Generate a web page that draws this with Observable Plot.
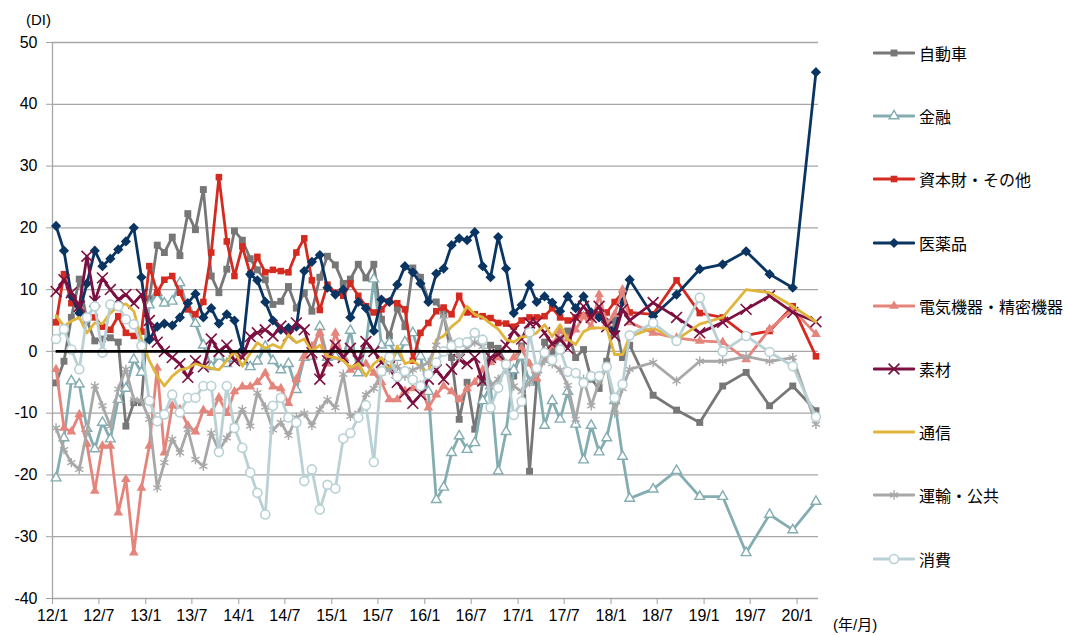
<!DOCTYPE html>
<html><head><meta charset="utf-8">
<script src="https://cdn.jsdelivr.net/npm/d3@7"></script>
<script src="https://cdn.jsdelivr.net/npm/@observablehq/plot@0.6"></script>
<style>
body{margin:0;background:#fff;}
#wrap{position:relative;width:1065px;height:635px;overflow:hidden;}
#chart svg{display:block;}
g[aria-label="y-axis tick"], g[aria-label="x-axis tick"]{stroke:#a0a0a0;}
.unit{position:absolute;font-family:"Liberation Sans","Noto Sans CJK JP",sans-serif;font-size:15px;color:#000;white-space:nowrap;}
.item{position:absolute;left:873px;height:20px;display:flex;align-items:center;white-space:nowrap;font-family:"Noto Sans CJK JP",sans-serif;font-size:16px;color:#000;}
.item svg{margin-right:4px;}
</style></head>
<body><div id="wrap"><div id="chart"></div></div>
<script>
// ---- data ----
const periods = [
"2012-01","2012-02","2012-03","2012-04","2012-05","2012-06","2012-07","2012-08","2012-09","2012-10","2012-11","2012-12",
"2013-01","2013-02","2013-03","2013-04","2013-05","2013-06","2013-07","2013-08","2013-09","2013-10","2013-11","2013-12",
"2014-01","2014-02","2014-03","2014-04","2014-05","2014-06","2014-07","2014-08","2014-09","2014-10","2014-11","2014-12",
"2015-01","2015-02","2015-03","2015-04","2015-05","2015-06","2015-07","2015-08","2015-09","2015-10","2015-11","2015-12",
"2016-01","2016-02","2016-03","2016-04","2016-05","2016-06","2016-07","2016-08","2016-09","2016-10","2016-11","2016-12",
"2017-01","2017-02","2017-03","2017-04","2017-05","2017-06","2017-07","2017-08","2017-09","2017-10","2017-11","2017-12",
"2018-01","2018-02","2018-03",
"2018-06","2018-09","2018-12","2019-03","2019-06","2019-09","2019-12","2020-03"];
const xTickLabels = ["12/1","12/7","13/1","13/7","14/1","14/7","15/1","15/7","16/1","16/7","17/1","17/7","18/1","18/7","19/1","19/7","20/1"];
const yTicks = [-40,-30,-20,-10,0,10,20,30,40,50];
const seriesNames = ["自動車","金融","資本財・その他","医薬品","電気機器・精密機器","素材","通信","運輸・公共","消費"];
const zeroLineSpan = ["2012-01","2017-01"];

const auto = [
-5.1,-1.6,5.5,11.7,5.0,1.7,2.0,2.2,1.5,-12.1,-8.3,-8.3,
8.5,17.2,16.0,18.5,15.5,22.3,19.7,26.2,12.2,9.5,13.3,19.5,
18.0,15.0,13.2,11.6,7.6,8.1,10.5,7.0,9.5,6.5,12.0,15.4,
14.0,11.0,11.7,14.1,11.9,14.1,5.2,2.5,7.0,4.0,13.5,12.0,
8.4,8.0,6.0,-1.0,-11.0,-5.0,-12.6,-5.0,1.0,0.5,-2.0,-4.0,
0.9,-19.4,-5.0,1.5,0.0,2.0,3.3,-1.0,0.3,-4.5,-6.0,-1.6,5.0,-1.0,1.0,
-7.1,-9.5,-11.5,-5.6,-3.4,-8.8,-5.6,-9.6];
const finance = [
-20.5,-14.0,-4.8,-5.3,-12.5,-15.8,-11.5,-14.2,-7.8,-6.0,-1.3,-3.4,
7.5,9.5,7.8,8.1,11.1,7.0,4.5,1.0,-2.5,-0.8,-2.0,-1.1,
-1.5,-2.5,-1.6,0.8,-1.5,-3.0,-2.0,-6.2,-1.0,-0.8,4.0,-1.0,
-0.8,-1.0,3.4,-3.5,1.0,11.7,1.0,1.4,-1.0,1.5,3.0,-0.8,
-6.5,-24.0,-22.0,-16.4,-13.7,-15.9,-14.8,-8.0,-5.6,-19.4,-13.0,-3.0,
-0.8,-5.0,-3.0,-12.0,-8.0,-11.0,-6.5,-11.8,-17.6,-12.0,-16.3,-14.0,-8.0,-17.0,-23.8,
-22.3,-19.3,-23.5,-23.5,-32.6,-26.4,-28.9,-24.3];
const capital = [
4.7,12.5,7.8,7.0,5.5,5.5,4.0,3.5,5.7,3.0,2.5,3.2,
13.8,9.5,11.6,12.2,9.5,6.8,6.0,8.0,16.0,28.2,17.8,12.2,
17.0,12.5,15.3,12.8,13.2,13.0,12.8,16.0,18.3,11.5,6.7,10.8,
9.5,9.0,11.0,9.0,7.3,6.3,6.8,8.1,7.8,6.8,-1.5,3.0,
4.6,6.5,7.1,6.0,9.0,6.3,6.0,5.7,5.4,4.6,4.5,4.0,
5.0,5.5,5.5,5.7,7.0,5.5,5.0,5.5,5.8,5.5,6.0,6.3,8.0,9.5,6.3,
6.0,11.5,6.2,5.5,2.6,3.3,7.3,-0.8];
const pharma = [
20.3,16.3,9.0,6.2,11.0,16.3,13.8,15.0,16.5,17.8,20.0,12.0,
1.9,4.0,4.5,4.2,5.5,7.8,9.3,5.5,7.0,4.5,6.0,5.0,
0.2,12.5,11.5,8.0,5.0,3.5,3.8,4.0,13.0,14.5,15.6,10.3,
9.2,10.0,5.5,8.0,7.0,3.3,8.4,8.0,10.8,13.8,12.8,11.0,
8.0,12.6,13.4,17.2,18.3,18.0,19.3,13.8,12.0,18.5,13.4,6.2,
7.5,10.8,8.0,8.9,7.9,6.5,8.9,7.0,8.9,6.3,5.5,4.7,3.2,8.0,11.6,
5.7,9.2,13.3,14.1,16.2,12.5,10.3,45.2];
const electric = [
-2.9,-12.4,-13.0,-10.2,-15.0,-22.6,-15.3,-15.3,-26.1,-20.7,-32.6,-22.1,
-15.3,-2.7,-16.4,-8.8,-9.4,-12.0,-13.0,-9.5,-10.0,-7.5,-10.0,-6.5,
-5.7,-5.7,-5.0,-3.5,-5.7,-6.0,-8.4,-4.5,-0.8,0.8,3.0,-2.0,
3.0,-1.0,-3.0,-2.5,-2.0,-3.5,-5.0,-7.8,-7.8,-6.4,-6.0,-5.5,
-9.1,-7.0,-5.6,-6.5,-7.8,-6.0,-5.0,-3.0,-1.8,-1.0,-2.0,-1.0,
0.5,-2.0,-4.4,-1.0,1.0,3.3,2.0,3.5,5.7,4.0,9.2,4.5,6.0,10.0,4.7,
3.0,2.2,1.7,1.5,-1.3,3.6,6.8,2.8];
const materials = [
9.7,11.6,9.5,7.3,15.4,8.1,11.9,10.0,8.4,9.2,7.8,9.2,
5.0,1.5,0.0,-1.0,-2.0,-4.2,-1.5,-2.5,2.0,0.0,1.0,-1.5,
-1.0,2.4,3.0,3.5,2.5,4.1,2.5,4.6,3.5,-0.2,-4.5,-1.5,
1.0,-1.0,0.5,-1.5,1.6,0.0,-1.8,-2.5,-5.0,-6.7,-8.4,-7.0,
-4.5,-3.0,-4.5,-2.9,-1.3,-2.0,-1.0,-4.8,-1.0,-0.5,1.0,3.4,
2.0,4.6,4.6,3.0,1.2,2.0,0.5,5.5,7.3,5.5,7.3,4.0,2.5,6.8,5.0,
7.9,5.5,3.0,4.7,6.8,9.0,6.3,4.8];
const telecom = [
5.8,4.1,4.9,5.5,3.0,4.6,4.5,6.2,7.3,7.7,6.5,2.0,
-1.5,-4.0,-5.6,-4.0,-3.0,-2.7,-2.0,-2.4,-2.7,-3.0,-1.5,0.0,
-2.4,-0.3,1.4,0.5,1.1,0.5,2.7,1.4,2.0,0.0,1.0,-0.8,
-1.0,-1.5,-2.6,-2.0,-4.0,-2.0,-1.0,-3.0,0.9,-2.0,-1.5,-2.5,
-3.5,1.9,2.5,4.0,5.0,7.3,6.0,5.5,4.5,3.6,1.9,1.5,
2.4,2.4,3.0,4.3,2.4,4.3,2.0,1.1,3.2,3.8,3.8,3.7,-0.5,-0.5,2.4,
3.8,1.9,4.4,5.5,10.0,9.5,7.3,4.8];
const transport = [
-12.4,-15.9,-18.0,-19.1,-13.0,-5.6,-8.8,-12.1,-6.1,-2.9,-7.8,-8.0,
-11.0,-22.1,-18.0,-14.2,-16.4,-12.6,-17.5,-18.6,-13.2,-16.1,-14.0,-12.1,
-9.4,-12.1,-6.7,-9.0,-12.7,-11.5,-13.6,-10.7,-10.0,-12.0,-9.4,-7.8,
-9.1,-3.7,-10.5,-10.0,-7.0,-6.0,-3.5,-3.0,-2.4,-4.0,-3.0,-2.5,
-1.8,1.0,5.7,1.5,-1.0,0.5,1.5,0.8,-5.6,-4.5,-3.0,-5.6,
-6.5,-5.0,-3.5,-1.5,-2.0,-3.0,-5.5,-11.0,-4.5,-8.8,-5.0,-2.5,-10.0,-6.0,-2.9,
-1.8,-4.8,-1.6,-1.6,-0.8,-1.6,-1.0,-11.8];
const consumer = [
2.0,3.6,0.3,-2.9,5.5,7.3,-0.2,7.6,7.3,5.2,4.4,0.9,
-8.0,-11.3,-10.2,-7.0,-9.9,-7.5,-7.5,-5.6,-5.6,-16.3,-5.6,-12.4,
-15.6,-19.6,-22.9,-26.4,-8.8,-7.5,-10.7,-11.5,-21.0,-19.1,-25.6,-21.6,
-22.2,-14.1,-13.2,-10.7,-8.7,-17.9,-3.2,-0.9,-4.1,-3.2,-4.6,-5.6,
-3.7,-1.8,0.0,0.9,1.4,1.5,3.0,1.9,-9.1,-5.9,-2.1,-10.3,
-8.1,3.1,-2.7,-0.2,-1.4,0.3,-3.3,-3.5,-5.1,-4.0,-4.0,-2.5,-7.5,-5.3,2.6,
4.6,1.7,8.7,0.0,2.5,-0.1,-2.4,-10.6];

// ---- styling (not data) ----
const seriesValues = [auto, finance, capital, pharma, electric, materials, telecom, transport, consumer];
const styles = [
  {color:"#777777", symbol:"square",   fill:"#777777", r:3.9},
  {color:"#84adb1", symbol:"triangle", fill:"#ffffff", r:3.6, sw:1.4},
  {color:"#d42a20", symbol:"square",   fill:"#d42a20", r:3.7},
  {color:"#0a3562", symbol:"diamond2", fill:"#0a3562", r:4.6},
  {color:"#e5847b", symbol:"triangle", fill:"#e5847b", r:3.6},
  {color:"#7c1040", symbol:"times",    fill:"none",    r:5.0, sw:1.6},
  {color:"#dfb53c", symbol:null},
  {color:"#a8a8a8", symbol:"asterisk", fill:"none",    r:4.4, sw:1.4},
  {color:"#b9d1d5", symbol:"circle",   fill:"#ffffff", r:4.5, sw:1.6}
];

const parsePeriod = s => new Date(Date.UTC(+s.slice(0,4), +s.slice(5,7) - 1, 15));
const parseTick = s => { const [yy, mm] = s.split("/"); return new Date(Date.UTC(2000 + +yy, +mm - 1, 1)); };
const tickDates = xTickLabels.map(parseTick);
const tickLabelMap = new Map(tickDates.map((d, i) => [+d, xTickLabels[i]]));

seriesValues.forEach((arr, i) => { if (arr.length !== periods.length) console.error(seriesNames[i], arr.length); });

const table = periods.map((p, i) => {
  const row = {date: parsePeriod(p)};
  seriesValues.forEach((arr, k) => row["s" + k] = arr[i]);
  return row;
});

const marks = [
  Plot.ruleY(yTicks, {stroke:"#a6a6a6", strokeWidth:1.3}),
  Plot.ruleX([new Date(Date.UTC(2012,0,1))], {stroke:"#a6a6a6", strokeWidth:1.3}),
  Plot.axisY(yTicks, {tickSize:6, tickPadding:9, fontSize:16, tickFormat: d => String(d)}),
  Plot.axisX(tickDates, {tickSize:6, tickPadding:5, fontSize:16, tickFormat: d => tickLabelMap.get(+d)})
];
styles.forEach((st, k) => {
  const key = "s" + k;
  marks.push(Plot.line(table, {x:"date", y:key, stroke:st.color, strokeWidth:2.8, strokeLinejoin:"round", strokeLinecap:"round"}));
  if (st.symbol) {
    const stroked = st.fill === "none" || st.fill === "#ffffff";
    marks.push(Plot.dot(table, {
      x:"date", y:key, symbol: () => st.symbol, r: st.r,
      fill: st.fill === "none" ? "none" : st.fill,
      stroke: stroked ? st.color : "none",
      strokeWidth: st.sw || 1
    }));
  }
});
marks.push(Plot.ruleY([{y:0, a:parsePeriod(zeroLineSpan[0]), b:parsePeriod(zeroLineSpan[1])}], {y:"y", x1:"a", x2:"b", stroke:"#000", strokeWidth:2.6}));

const chart = Plot.plot({
  width: 1065, height: 635,
  marginLeft: 52, marginRight: 247, marginTop: 42, marginBottom: 37,
  x: {type:"utc", domain:[new Date(Date.UTC(2012,0,1)), new Date(Date.UTC(2020,2,25))]},
  y: {domain:[-40, 50]},
  symbol: {type:"identity"},
  style: {fontFamily:"'Liberation Sans', Arial, sans-serif", color:"#000", background:"#fff"},
  marks
});
document.getElementById("chart").appendChild(chart);

// axis unit labels
const wrap = document.getElementById("wrap");
function addText(txt, left, top){ const d = document.createElement("div"); d.className = "unit"; d.textContent = txt; d.style.left = left + "px"; d.style.top = top + "px"; wrap.appendChild(d); }
addText("(DI)", 26, 11);
addText("(年/月)", 833, 613);

// legend
const symbolTypes = {square:d3.symbolSquare, triangle:d3.symbolTriangle, diamond2:d3.symbolDiamond2, times:d3.symbolTimes, asterisk:d3.symbolAsterisk, circle:d3.symbolCircle};
seriesNames.forEach((name, k) => {
  const st = styles[k];
  const row = document.createElement("div");
  row.className = "item";
  row.style.top = (43 + k * 63.2) + "px";
  const ns = "http://www.w3.org/2000/svg";
  const svg = document.createElementNS(ns, "svg");
  svg.setAttribute("width", 42); svg.setAttribute("height", 14);
  const ln = document.createElementNS(ns, "line");
  ln.setAttribute("x1", 1); ln.setAttribute("x2", 41); ln.setAttribute("y1", 7); ln.setAttribute("y2", 7);
  ln.setAttribute("stroke", st.color); ln.setAttribute("stroke-width", 2.8); ln.setAttribute("stroke-linecap", "round");
  svg.appendChild(ln);
  if (st.symbol) {
    const p = document.createElementNS(ns, "path");
    p.setAttribute("d", d3.symbol(symbolTypes[st.symbol], Math.PI * st.r * st.r)());
    p.setAttribute("transform", "translate(21,7)");
    const stroked = st.fill === "none" || st.fill === "#ffffff";
    p.setAttribute("fill", st.fill === "none" ? "none" : st.fill);
    p.setAttribute("stroke", stroked ? st.color : "none");
    p.setAttribute("stroke-width", st.sw || 1);
    svg.appendChild(p);
  }
  row.appendChild(svg);
  const t = document.createElement("span");
  t.textContent = name;
  row.appendChild(t);
  wrap.appendChild(row);
});
</script>
</body></html>
